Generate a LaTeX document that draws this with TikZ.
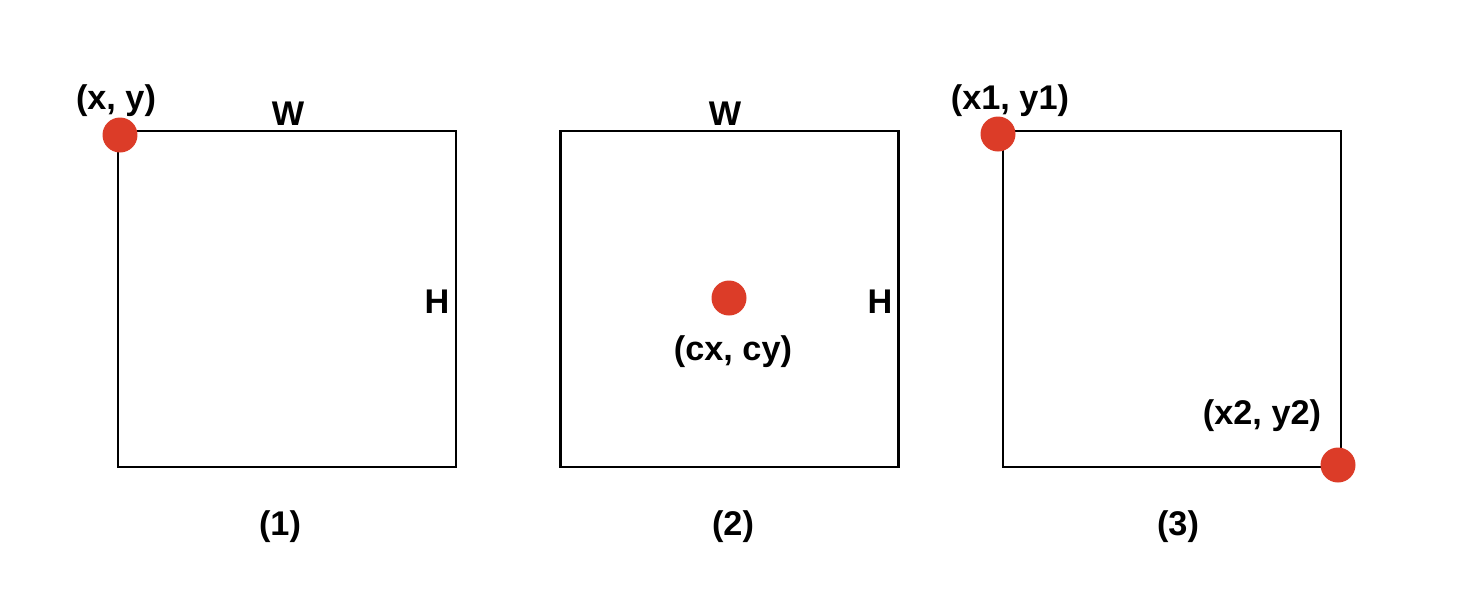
\documentclass[tikz,border=0pt]{standalone}
\usepackage{fontspec}
\setmainfont{Liberation Sans}
\definecolor{dotred}{HTML}{DC3C28}

\begin{document}
\begin{tikzpicture}[x=0.02cm,y=-0.02cm,
  box/.style={draw, line width=1.6pt, minimum width=6.76cm, minimum height=6.72cm, inner sep=0pt},
  pt/.style={circle, fill=dotred, minimum size=0.7cm, inner sep=0pt},
  lbl/.style={font=\fontsize{19.5}{23}\selectfont\bfseries, inner sep=0pt}]
\useasboundingbox (0,0) rectangle (1460,610);
% boxes
\node[box] (b1) at (287,299) {};
\node[box] (b2) at (729.5,299) {};
\node[box] (b3) at (1172,299) {};
% points
\node[pt] (p1) at (120,135) {};
\node[pt] (c2) at (729,298) {};
\node[pt] (q1) at (998,134) {};
\node[pt] (q2) at (1338,465) {};
% labels
\node[lbl] (t1) at (116,101) {(x, y)};
\node[lbl] (w1) at (288,114) {W};
\node[lbl] (h1) at (437,302) {H};
\node[lbl] (n1) at (280,527) {(1)};
\node[lbl] (w2) at (725,114) {W};
\node[lbl] (h2) at (880,302) {H};
\node[lbl] (t2) at (733,352) {(cx, cy)};
\node[lbl] (n2) at (733,527) {(2)};
\node[lbl] (t3) at (1010,101) {(x1, y1)};
\node[lbl] (t4) at (1262,416) {(x2, y2)};
\node[lbl] (n3) at (1178,527) {(3)};
\end{tikzpicture}
\end{document}
